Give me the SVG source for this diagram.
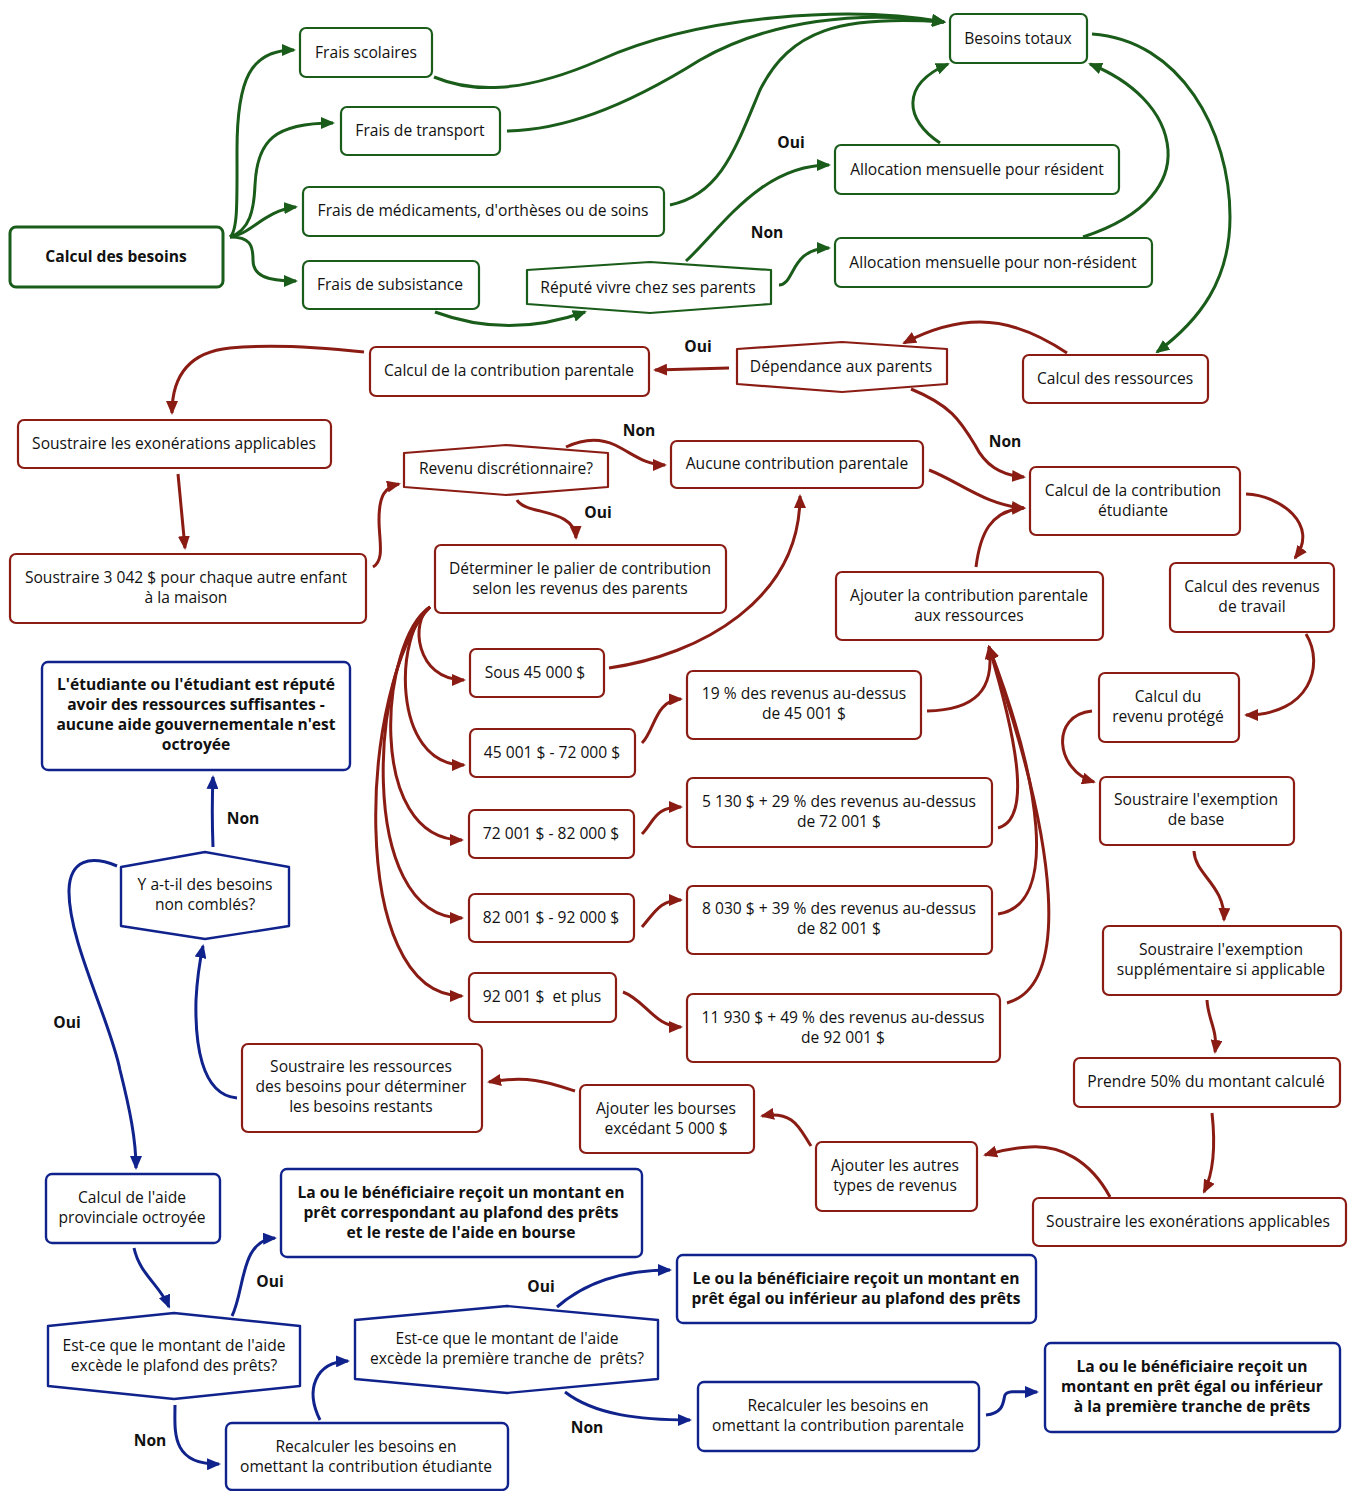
<svg xmlns="http://www.w3.org/2000/svg" width="1349" height="1491" viewBox="0 0 1349 1491">
<defs>
<style>
text{font-family:"Open Sans","Liberation Sans",sans-serif;font-size:15.6px;fill:#111;text-anchor:middle;dominant-baseline:central}
.b{font-weight:bold}
.ng{fill:#fff;stroke:#1a5c1a;stroke-width:2.2;stroke-linejoin:round}
.nr{fill:#fff;stroke:#8a1c14;stroke-width:2.2;stroke-linejoin:round}
.nb{fill:#fff;stroke:#10228c;stroke-width:2.4;stroke-linejoin:round}
.cg{fill:none;stroke:#1a5c1a;stroke-width:3}
.cr{fill:none;stroke:#8a1c14;stroke-width:3}
.cb{fill:none;stroke:#10228c;stroke-width:3}
</style>
<marker id="ag" markerUnits="userSpaceOnUse" markerWidth="14" markerHeight="12" refX="12" refY="6" orient="auto"><path d="M0,0 L14,6 L0,12 z" fill="#1a5c1a"/></marker>
<marker id="ar" markerUnits="userSpaceOnUse" markerWidth="14" markerHeight="12" refX="12" refY="6" orient="auto"><path d="M0,0 L14,6 L0,12 z" fill="#8a1c14"/></marker>
<marker id="ab" markerUnits="userSpaceOnUse" markerWidth="14" markerHeight="12" refX="12" refY="6" orient="auto"><path d="M0,0 L14,6 L0,12 z" fill="#10228c"/></marker>
</defs>
<rect width="1349" height="1491" fill="#fff"/>

<g id="connectors">
<path class="cg" marker-end="url(#ag)" d="M230,237 C238,230 237,200 237,150 C237,80 250,50 294,50"/>
<path class="cg" marker-end="url(#ag)" d="M230,237 C250,230 254,210 255,185 C257,140 275,123 333,123"/>
<path class="cg" marker-end="url(#ag)" d="M230,237 C250,235 265,210 296,207"/>
<path class="cg" marker-end="url(#ag)" d="M230,237 C250,237 253,245 253,260 C253,275 265,281 296,281"/>
<path class="cg" marker-end="url(#ag)" d="M434,77 C470,92 520,95 600,60 C700,15 850,5 944,22"/>
<path class="cg" marker-end="url(#ag)" d="M507,131 C560,130 620,110 700,60 C770,20 860,10 944,22"/>
<path class="cg" marker-end="url(#ag)" d="M670,205 C720,195 735,150 760,90 C790,30 840,15 944,22"/>
<path class="cg" marker-end="url(#ag)" d="M686,261 C720,230 760,165 829,165"/>
<path class="cg" marker-end="url(#ag)" d="M779,285 C795,285 790,248 829,248"/>
<path class="cg" marker-end="url(#ag)" d="M940,143 C905,120 900,85 948,64"/>
<path class="cg" marker-end="url(#ag)" d="M1083,237 C1150,215 1170,180 1168,150 C1165,110 1130,80 1090,64"/>
<path class="cg" marker-end="url(#ag)" d="M1092,34 C1180,40 1230,130 1230,217 C1230,280 1200,320 1157,352"/>
<path class="cg" marker-end="url(#ag)" d="M435,312 C470,325 520,335 585,312"/>

<path class="cr" marker-end="url(#ar)" d="M1067,353 C1040,335 1010,322 980,322 C950,322 925,332 904,343"/>
<path class="cr" marker-end="url(#ar)" d="M729,368 L655,370"/>
<path class="cr" marker-end="url(#ar)" d="M911,389 C950,405 960,420 975,445 C985,465 1000,475 1024,477"/>
<path class="cr" marker-end="url(#ar)" d="M929,470 C960,482 985,505 1024,508"/>
<path class="cr" marker-end="url(#ar)" d="M976,567 C980,535 990,510 1024,508"/>
<path class="cr" marker-end="url(#ar)" d="M1246,494 C1280,495 1320,525 1295,558"/>
<path class="cr" marker-end="url(#ar)" d="M364,352 C300,345 260,345 230,348 C190,352 172,375 172,413"/>
<path class="cr" marker-end="url(#ar)" d="M178,474 L185,548"/>
<path class="cr" marker-end="url(#ar)" d="M373,567 C385,560 379,540 379,520 C379,495 385,487 399,484"/>
<path class="cr" marker-end="url(#ar)" d="M566,447 C585,438 600,438 615,445 C635,455 645,465 665,465"/>
<path class="cr" marker-end="url(#ar)" d="M517,500 C525,515 575,508 576,538"/>
<path class="cr" marker-end="url(#ar)" d="M430,607 C410,620 415,680 464,680"/>
<path class="cr" marker-end="url(#ar)" d="M430,607 C395,630 390,765 464,765"/>
<path class="cr" marker-end="url(#ar)" d="M430,607 C380,640 365,840 462,840"/>
<path class="cr" marker-end="url(#ar)" d="M430,607 C370,660 355,918 462,918"/>
<path class="cr" marker-end="url(#ar)" d="M430,607 C360,680 345,996 462,996"/>
<path class="cr" marker-end="url(#ar)" d="M609,668 C700,655 800,600 800,496"/>
<path class="cr" marker-end="url(#ar)" d="M642,743 C655,730 655,700 681,699"/>
<path class="cr" marker-end="url(#ar)" d="M642,834 C655,820 655,807 681,807"/>
<path class="cr" marker-end="url(#ar)" d="M642,927 C655,912 660,900 681,900"/>
<path class="cr" marker-end="url(#ar)" d="M623,992 C645,1000 655,1027 681,1027"/>
<path class="cr" marker-end="url(#ar)" d="M927,711 C975,710 995,690 989,647"/>
<path class="cr" marker-end="url(#ar)" d="M998,828 C1030,820 1020,750 989,647"/>
<path class="cr" marker-end="url(#ar)" d="M998,914 C1060,905 1040,780 989,647"/>
<path class="cr" marker-end="url(#ar)" d="M1007,1003 C1070,985 1060,850 989,647"/>
<path class="cr" marker-end="url(#ar)" d="M1306,634 C1325,665 1310,715 1246,715"/>
<path class="cr" marker-end="url(#ar)" d="M1092,711 C1050,715 1055,770 1094,782"/>
<path class="cr" marker-end="url(#ar)" d="M1194,851 C1195,875 1225,885 1224,920"/>
<path class="cr" marker-end="url(#ar)" d="M1207,1000 C1208,1020 1218,1030 1215,1052"/>
<path class="cr" marker-end="url(#ar)" d="M1212,1113 C1215,1140 1215,1170 1204,1192"/>
<path class="cr" marker-end="url(#ar)" d="M1110,1197 C1090,1160 1060,1145 1030,1147 C1010,1148 995,1152 985,1155"/>
<path class="cr" marker-end="url(#ar)" d="M811,1146 C800,1130 795,1110 762,1116"/>
<path class="cr" marker-end="url(#ar)" d="M575,1091 C550,1083 530,1075 489,1082"/>

<path class="cb" marker-end="url(#ab)" d="M237,1098 C200,1095 195,1040 196,1000 C197,980 200,960 203,946"/>
<path class="cb" marker-end="url(#ab)" d="M213,847 C212,820 212,800 213,777"/>
<path class="cb" marker-end="url(#ab)" d="M117,866 C90,855 70,860 69,890 C68,940 110,1020 120,1070 C130,1110 136,1140 136,1168"/>
<path class="cb" marker-end="url(#ab)" d="M134,1248 C140,1275 160,1285 169,1307"/>
<path class="cb" marker-end="url(#ab)" d="M232,1316 C245,1290 240,1240 275,1238"/>
<path class="cb" marker-end="url(#ab)" d="M175,1405 C175,1430 170,1465 219,1464"/>
<path class="cb" marker-end="url(#ab)" d="M320,1420 C305,1390 315,1362 348,1361"/>
<path class="cb" marker-end="url(#ab)" d="M557,1307 C580,1287 615,1270 670,1270"/>
<path class="cb" marker-end="url(#ab)" d="M565,1392 C595,1415 640,1420 690,1420"/>
<path class="cb" marker-end="url(#ab)" d="M986,1415 C1005,1413 1003,1400 1005,1395 C1008,1390 1020,1392 1037,1392"/>

<text class="b" x="791" y="142">Oui</text>
<text class="b" x="767" y="232">Non</text>
<text class="b" x="698" y="346">Oui</text>
<text class="b" x="639" y="430">Non</text>
<text class="b" x="598" y="512">Oui</text>
<text class="b" x="1005" y="441">Non</text>
<text class="b" x="243" y="818">Non</text>
<text class="b" x="67" y="1022">Oui</text>
<text class="b" x="270" y="1281">Oui</text>
<text class="b" x="541" y="1286">Oui</text>
<text class="b" x="150" y="1440">Non</text>
<text class="b" x="587" y="1427">Non</text>
</g>

<g id="n-besoins"><rect class="ng" style="stroke-width:3" x="10" y="227" width="213" height="60" rx="6"/><text class="b" x="116" y="256">Calcul des besoins</text></g>
<g id="n-scolaires"><rect class="ng" x="300" y="28" width="132" height="49" rx="6"/><text x="366" y="52">Frais scolaires</text></g>
<g id="n-transport"><rect class="ng" x="341" y="107" width="159" height="48" rx="6"/><text x="420" y="130">Frais de transport</text></g>
<g id="n-medic"><rect class="ng" x="303" y="187" width="361" height="49" rx="6"/><text x="483" y="210">Frais de médicaments, d'orthèses ou de soins</text></g>
<g id="n-subsist"><rect class="ng" x="303" y="261" width="176" height="48" rx="6"/><text x="390" y="284">Frais de subsistance</text></g>
<g id="n-repute"><path class="ng" d="M527,270 L650,262 L771,270 L771,304 L650,313 L527,304 Z"/><text x="648" y="287">Réputé vivre chez ses parents</text></g>
<g id="n-totaux"><rect class="ng" x="950" y="14" width="137" height="49" rx="6"/><text x="1018" y="38">Besoins totaux</text></g>
<g id="n-resident"><rect class="ng" x="835" y="145" width="284" height="49" rx="6"/><text x="977" y="169">Allocation mensuelle pour résident</text></g>
<g id="n-nonresident"><rect class="ng" x="835" y="238" width="317" height="49" rx="6"/><text x="993" y="262">Allocation mensuelle pour non-résident</text></g>

<g id="n-contribpar"><rect class="nr" x="370" y="347" width="279" height="49" rx="6"/><text x="509" y="370">Calcul de la contribution parentale</text></g>
<g id="n-dependance"><path class="nr" d="M737,349 L842,342 L947,349 L947,384 L842,392 L737,384 Z"/><text x="841" y="366">Dépendance aux parents</text></g>
<g id="n-ressources"><rect class="nr" x="1023" y="355" width="185" height="48" rx="6"/><text x="1115" y="378">Calcul des ressources</text></g>
<g id="n-exon1"><rect class="nr" x="18" y="420" width="313" height="48" rx="6"/><text x="174" y="443">Soustraire les exonérations applicables</text></g>
<g id="n-revdisc"><path class="nr" d="M404,453 L506,445 L608,453 L608,487 L506,495 L404,487 Z"/><text x="506" y="468">Revenu discrétionnaire?</text></g>
<g id="n-aucune"><rect class="nr" x="671" y="441" width="252" height="47" rx="6"/><text x="797" y="463">Aucune contribution parentale</text></g>
<g id="n-contribetu"><rect class="nr" x="1030" y="467" width="210" height="68" rx="6"/><text x="1133" y="490">Calcul de la contribution</text><text x="1133" y="510">étudiante</text></g>
<g id="n-3042"><rect class="nr" x="10" y="554" width="356" height="69" rx="6"/><text x="186" y="577">Soustraire 3 042 $ pour chaque autre enfant</text><text x="186" y="597">à la maison</text></g>
<g id="n-palier"><rect class="nr" x="435" y="545" width="291" height="68" rx="6"/><text x="580" y="568">Déterminer le palier de contribution</text><text x="580" y="588">selon les revenus des parents</text></g>
<g id="n-ajouterpar"><rect class="nr" x="836" y="572" width="267" height="68" rx="6"/><text x="969" y="595">Ajouter la contribution parentale</text><text x="969" y="615">aux ressources</text></g>
<g id="n-travail"><rect class="nr" x="1170" y="563" width="164" height="69" rx="6"/><text x="1252" y="586">Calcul des revenus</text><text x="1252" y="606">de travail</text></g>
<g id="n-t1"><rect class="nr" x="470" y="649" width="134" height="48" rx="6"/><text x="535" y="672">Sous 45 000 $</text></g>
<g id="n-t2"><rect class="nr" x="470" y="729" width="165" height="48" rx="6"/><text x="552" y="752">45 001 $ - 72 000 $</text></g>
<g id="n-t3"><rect class="nr" x="469" y="810" width="165" height="48" rx="6"/><text x="551" y="833">72 001 $ - 82 000 $</text></g>
<g id="n-t4"><rect class="nr" x="469" y="894" width="165" height="48" rx="6"/><text x="551" y="917">82 001 $ - 92 000 $</text></g>
<g id="n-t5"><rect class="nr" x="469" y="973" width="147" height="49" rx="6"/><text x="542" y="996" xml:space="preserve">92 001 $  et plus</text></g>
<g id="n-c1"><rect class="nr" x="687" y="671" width="234" height="68" rx="6"/><text x="804" y="693">19 % des revenus au-dessus</text><text x="804" y="713">de 45 001 $</text></g>
<g id="n-c2"><rect class="nr" x="687" y="778" width="305" height="69" rx="6"/><text x="839" y="801">5 130 $ + 29 % des revenus au-dessus</text><text x="839" y="821">de 72 001 $</text></g>
<g id="n-c3"><rect class="nr" x="687" y="886" width="305" height="68" rx="6"/><text x="839" y="908">8 030 $ + 39 % des revenus au-dessus</text><text x="839" y="928">de 82 001 $</text></g>
<g id="n-c4"><rect class="nr" x="687" y="994" width="313" height="68" rx="6"/><text x="843" y="1017">11 930 $ + 49 % des revenus au-dessus</text><text x="843" y="1037">de 92 001 $</text></g>
<g id="n-protege"><rect class="nr" x="1099" y="673" width="140" height="69" rx="6"/><text x="1168" y="696">Calcul du</text><text x="1168" y="716">revenu protégé</text></g>
<g id="n-base"><rect class="nr" x="1100" y="777" width="194" height="68" rx="6"/><text x="1196" y="799">Soustraire l'exemption</text><text x="1196" y="819">de base</text></g>
<g id="n-supp"><rect class="nr" x="1103" y="926" width="238" height="69" rx="6"/><text x="1221" y="949">Soustraire l'exemption</text><text x="1221" y="969">supplémentaire si applicable</text></g>
<g id="n-50"><rect class="nr" x="1074" y="1058" width="266" height="49" rx="6"/><text x="1206" y="1081">Prendre 50% du montant calculé</text></g>
<g id="n-exon2"><rect class="nr" x="1033" y="1198" width="313" height="48" rx="6"/><text x="1188" y="1221">Soustraire les exonérations applicables</text></g>
<g id="n-autres"><rect class="nr" x="816" y="1142" width="161" height="69" rx="6"/><text x="895" y="1165">Ajouter les autres</text><text x="895" y="1185">types de revenus</text></g>
<g id="n-bourses"><rect class="nr" x="580" y="1085" width="174" height="68" rx="6"/><text x="666" y="1108">Ajouter les bourses</text><text x="666" y="1128">excédant 5 000 $</text></g>
<g id="n-soustres"><rect class="nr" x="242" y="1044" width="240" height="88" rx="6"/><text x="361" y="1066">Soustraire les ressources</text><text x="361" y="1086">des besoins pour déterminer</text><text x="361" y="1106">les besoins restants</text></g>

<g id="n-suffisantes"><rect class="nb" x="42" y="662" width="308" height="108" rx="6"/><text class="b" x="196" y="684">L'étudiante ou l'étudiant est réputé</text><text class="b" x="196" y="704">avoir des ressources suffisantes -</text><text class="b" x="196" y="724">aucune aide gouvernementale n'est</text><text class="b" x="196" y="744">octroyée</text></g>
<g id="n-nonc"><path class="nb" d="M121,867 L205,852 L289,867 L289,926 L205,939 L121,926 Z"/><text x="205" y="884">Y a-t-il des besoins</text><text x="205" y="904">non comblés?</text></g>
<g id="n-aide"><rect class="nb" x="46" y="1174" width="174" height="69" rx="6"/><text x="132" y="1197">Calcul de l'aide</text><text x="132" y="1217">provinciale octroyée</text></g>
<g id="n-bourse"><rect class="nb" x="281" y="1169" width="361" height="88" rx="6"/><text class="b" x="461" y="1192">La ou le bénéficiaire reçoit un montant en</text><text class="b" x="461" y="1212">prêt correspondant au plafond des prêts</text><text class="b" x="461" y="1232">et le reste de l'aide en bourse</text></g>
<g id="n-plafond"><path class="nb" d="M48,1326 L174,1313 L300,1326 L300,1386 L174,1399 L48,1386 Z"/><text x="174" y="1345">Est-ce que le montant de l'aide</text><text x="174" y="1365">excède le plafond des prêts?</text></g>
<g id="n-tranche"><path class="nb" d="M355,1320 L507,1306 L658,1320 L658,1379 L507,1393 L355,1379 Z"/><text x="507" y="1338">Est-ce que le montant de l'aide</text><text x="507" y="1358" xml:space="preserve">excède la première tranche de  prêts?</text></g>
<g id="n-egal"><rect class="nb" x="677" y="1255" width="359" height="68" rx="6"/><text class="b" x="856" y="1278">Le ou la bénéficiaire reçoit un montant en</text><text class="b" x="856" y="1298">prêt égal ou inférieur au plafond des prêts</text></g>
<g id="n-recetu"><rect class="nb" x="226" y="1423" width="282" height="67" rx="6"/><text x="366" y="1446">Recalculer les besoins en</text><text x="366" y="1466">omettant la contribution étudiante</text></g>
<g id="n-recpar"><rect class="nb" x="698" y="1382" width="281" height="69" rx="6"/><text x="838" y="1405">Recalculer les besoins en</text><text x="838" y="1425">omettant la contribution parentale</text></g>
<g id="n-premiere"><rect class="nb" x="1045" y="1343" width="295" height="89" rx="6"/><text class="b" x="1192" y="1366">La ou le bénéficiaire reçoit un</text><text class="b" x="1192" y="1386">montant en prêt égal ou inférieur</text><text class="b" x="1192" y="1406">à la première tranche de prêts</text></g>
</svg>
